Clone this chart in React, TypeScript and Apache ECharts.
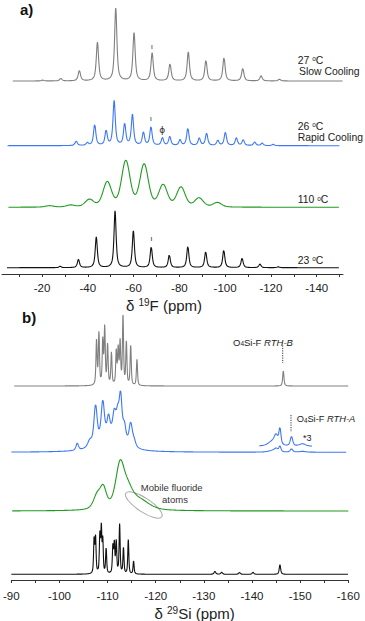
import React, { useEffect, useRef } from "react";
import * as echarts from "echarts";

// Each peak: [chemical shift (ppm), intensity, half width at half height (ppm)]
type Peak = [number, number, number];

// ---------- Panel a) 19F MAS NMR ----------
const F19_TICK_VALUES = [-10, -20, -30, -40, -50, -60, -70, -80, -90, -100, -110, -120, -130, -140, -150];
const F19_LABEL_VALUES = [-20, -40, -60, -80, -100, -120, -140];

const F19_SLOW_27C: Peak[] = [
  [-20.3, 0.8, 0.6], [-28.2, 2.4, 0.6], [-36.3, 10.3, 0.6], [-44.2, 38.5, 0.6],
  [-52.2, 72.5, 0.6], [-60.2, 48, 0.6], [-68.1, 27.8, 0.6], [-75.9, 17, 0.6],
  [-83.9, 28.8, 0.6], [-91.6, 20.5, 0.6], [-99.5, 23.3, 0.6], [-107.7, 12.5, 0.6],
  [-115.7, 5.2, 0.6], [-123.7, 1.7, 0.6],
];
const F19_RAPID_26C: Peak[] = [
  [-34.9, 4.4, 0.6], [-39.8, 2.7, 0.6], [-43.0, 21, 0.6], [-48.0, 14.6, 0.6],
  [-51.5, 44.5, 0.6], [-56.1, 21.5, 0.6], [-59.5, 30.5, 0.6], [-64.3, 13, 0.6],
  [-67.6, 18.6, 0.6], [-72.6, 7.6, 0.6], [-75.8, 8.8, 0.6], [-80.3, 5.6, 0.6],
  [-83.7, 17.2, 0.6], [-88.7, 7.3, 0.6], [-91.9, 12.3, 0.6], [-96.8, 5.1, 0.6],
  [-100.1, 13.3, 0.6], [-104.9, 7.6, 0.6], [-107.9, 5.7, 0.6], [-112.9, 3.5, 0.6],
  [-116.2, 2.5, 0.6], [-121.0, 1.3, 0.6],
];
const F19_HOT_110C: Peak[] = [
  [-23.2, 1.4, 2.2], [-32.5, 1.9, 2.2], [-40.7, 7.3, 2.2], [-48.5, 24.5, 2.2],
  [-56.6, 45.5, 2.2], [-64.6, 42, 2.2], [-72.9, 21.5, 2.2], [-80.7, 19.5, 2.2],
  [-88.6, 8.8, 2.2], [-96.6, 4.5, 2.2],
];
const F19_ROOM_23C: Peak[] = [
  [-27.9, 1.4, 0.55], [-35.9, 8.2, 0.55], [-43.7, 30.6, 0.55], [-51.9, 56.5, 0.55],
  [-59.9, 36.6, 0.55], [-67.7, 20.8, 0.55], [-75.6, 12.6, 0.55], [-83.7, 21.4, 0.55],
  [-91.5, 16, 0.55], [-99.4, 17.6, 0.55], [-107.4, 9.4, 0.55], [-115.2, 3.6, 0.55],
  [-123.2, 1.0, 0.55],
];
// spectral window of each trace [from, to] (ppm)
const F19_SLOW_RANGE = [-7.2, -151.5];
const F19_RAPID_RANGE = [-4.9, -150.2];
const F19_HOT_RANGE = [-5.3, -149.8];
const F19_ROOM_RANGE = [-4.7, -149.8];

// ---------- Panel b) 29Si MAS NMR ----------
const SI29_SLOW_27C: Peak[] = [
  [-107.7, 44, 0.14], [-108.2, 52, 0.14], [-109.0, 44, 0.14], [-109.4, 57, 0.14],
  [-110.0, 40, 0.14], [-110.8, 32, 0.14], [-111.8, 33, 0.14], [-112.2, 35, 0.14],
  [-112.6, 42, 0.14], [-113.2, 68, 0.14], [-113.9, 43, 0.14], [-114.8, 40, 0.14],
  [-116.1, 26, 0.14], [-146.5, 15, 0.16],
];
const SI29_RAPID_26C: Peak[] = [
  [-103.7, 7, 0.3], [-106.3, 6, 0.5], [-107.5, 38, 0.4], [-109.0, 37, 0.4],
  [-110.2, 18, 0.35], [-111.4, 22, 0.4], [-112.1, 20, 0.35], [-112.7, 42, 0.35],
  [-113.5, 15, 0.35], [-114.8, 22, 0.4], [-115.5, 6, 0.4], [-110.8, 16, 3.0],
  [-144.2, 1.5, 1.0], [-145.0, 3, 0.45], [-145.8, 5.5, 0.25], [-148.2, 3.2, 0.3],
  [-150.5, 0.8, 0.8],
];
const SI29_HOT_110C: Peak[] = [
  [-107.8, 13, 0.9], [-109.1, 20, 0.8], [-112.6, 44, 1.1], [-114.3, 14, 1.2],
  [-116.5, 10, 2.5],
];
const SI29_ROOM_23C: Peak[] = [
  [-107.2, 34, 0.13], [-107.5, 35, 0.13], [-108.4, 38, 0.13], [-108.7, 44, 0.13],
  [-109.0, 32, 0.12], [-109.7, 25, 0.13], [-111.1, 27, 0.13], [-111.4, 29, 0.13],
  [-111.8, 32, 0.13], [-112.5, 49, 0.13], [-113.3, 26, 0.13], [-114.3, 34, 0.13],
  [-115.4, 13, 0.13], [-132.3, 3, 0.2], [-133.7, 2, 0.2], [-137.4, 1.8, 0.2],
  [-140.2, 2, 0.2], [-145.8, 9.5, 0.18],
];
const SI29_SLOW_RANGE = [-90.6, -160];
const SI29_RAPID_RANGE = [-90, -159.7];
const SI29_HOT_RANGE = [-90.2, -160];
const SI29_ROOM_RANGE = [-90, -160];
const SI29_EXPANSION_RANGE = [-141.5, -152.5];
const SI29_EXPANSION_FACTOR = 3;

const FONT = "'Liberation Sans', Arial, Helvetica, sans-serif";

function trace(peaks: Peak[], range: number[], step: number, eta: number, offset: number, scale = 1) {
  const [from, to] = range;
  const n = Math.round((from - to) / step);
  const pts: number[][] = [];
  for (let i = 0; i <= n; i++) {
    const x = from - i * step;
    let y = 0;
    for (const [c, h, g] of peaks) {
      const d = (x - c) / g;
      const d2 = d * d;
      y += h * (eta / (1 + d2) + (1 - eta) * Math.exp(-Math.LN2 * d2));
    }
    pts.push([x, offset + scale * y]);
  }
  return pts;
}

const line = (data: number[][], color: string, axis: number, width = 1.1) => ({
  type: "line",
  xAxisIndex: axis,
  yAxisIndex: axis,
  data,
  showSymbol: false,
  symbol: "none",
  silent: true,
  lineStyle: { color, width },
});

const txt = (text: string, x: number, y: number, extra: any = {}) => ({
  type: "text",
  x,
  y,
  silent: true,
  style: {
    text,
    fill: "#222",
    fontFamily: FONT,
    fontSize: 10.4,
    align: "left",
    verticalAlign: "middle",
    ...extra,
  },
});

const tempLabel = (t: string, x: number, y: number) =>
  txt(`${t} {s|o}C`, x, y, { rich: { s: { fontSize: 6.5, verticalAlign: "top", fontFamily: FONT, fill: "#222" } } });

export default function App() {
  const ref = useRef<HTMLDivElement>(null);

  useEffect(() => {
    if (!ref.current) return;
    const chart = echarts.init(ref.current, undefined, { renderer: "svg" });

    const GRAY = "#808080";
    const BLUE = "#3d78f2";
    const GREEN = "#219a21";
    const BLACK = "#111111";

    const series = [
      line(trace(F19_SLOW_27C, F19_SLOW_RANGE, 0.1, 0.75, 193), GRAY, 0),
      line(trace(F19_RAPID_26C, F19_RAPID_RANGE, 0.1, 0.75, 128.3), BLUE, 0),
      line(trace(F19_HOT_110C, F19_HOT_RANGE, 0.1, 0.3, 66.7), GREEN, 0),
      line(trace(F19_ROOM_23C, F19_ROOM_RANGE, 0.1, 0.75, 6.3), BLACK, 0),
      line(trace(SI29_SLOW_27C, SI29_SLOW_RANGE, 0.03, 0.6, 194), GRAY, 1),
      line(trace(SI29_RAPID_26C, SI29_RAPID_RANGE, 0.03, 0.6, 127.7), BLUE, 1),
      line(trace(SI29_RAPID_26C, SI29_EXPANSION_RANGE, 0.03, 0.6, 133.4, SI29_EXPANSION_FACTOR), BLUE, 1),
      line(trace(SI29_HOT_110C, SI29_HOT_RANGE, 0.03, 0.5, 69), GREEN, 1),
      line(trace(SI29_ROOM_23C, SI29_ROOM_RANGE, 0.03, 0.6, 5.7), BLACK, 1),
    ];

    const axisCommon = {
      type: "value",
      inverse: true,
      axisLine: { show: true, onZero: false, lineStyle: { color: "#333", width: 1 } },
      splitLine: { show: false },
    };

    const graphic: any[] = [
      txt("a)", 20, 9, { fontSize: 15, fontWeight: "bold", fill: "#111" }),
      tempLabel("27", 297.7, 60),
      txt("Slow Cooling", 299, 71),
      tempLabel("26", 297.7, 126),
      txt("Rapid Cooling", 297.7, 137.5),
      tempLabel("110", 297.7, 199.5),
      tempLabel("23", 297.7, 260),
      txt("ι", 152, 46.5, { fontSize: 8, align: "center", fill: "#333" }),
      txt("ι", 151, 118.5, { fontSize: 8, align: "center", fill: "#333" }),
      txt("ϕ", 162.3, 130, { fontSize: 9, align: "center", fill: "#333", fontFamily: "'DejaVu Sans', sans-serif" }),
      txt("ι", 151.3, 238.5, { fontSize: 8, align: "center", fill: "#333" }),
      txt("δ {s|19}F (ppm)", 164, 305, {
        fontSize: 15,
        align: "center",
        rich: { s: { fontSize: 10, verticalAlign: "top", fontFamily: FONT, fill: "#222" } },
      }),
      txt("b)", 22, 317, { fontSize: 15, fontWeight: "bold", fill: "#111" }),
      txt("{n|O}{d|4}{n|Si-F }{i|RTH-B}", 233, 342.3, {
        fontSize: 9.5,
        rich: {
          n: { fontSize: 9.5, fontFamily: FONT, fill: "#222" },
          d: { fontSize: 6.5, verticalAlign: "bottom", fontFamily: FONT, fill: "#222" },
          i: { fontSize: 9.5, fontStyle: "italic", fontFamily: FONT, fill: "#222" },
        },
      }),
      {
        type: "line",
        silent: true,
        shape: { x1: 282.7, y1: 345.5, x2: 282.7, y2: 363 },
        style: { stroke: "#333", lineWidth: 1, lineDash: [1.2, 1.2] },
      },
      txt("{n|O}{d|4}{n|Si-F }{i|RTH-A}", 296.7, 419.3, {
        fontSize: 9.3,
        rich: {
          n: { fontSize: 9.3, fontFamily: FONT, fill: "#222" },
          d: { fontSize: 6.3, verticalAlign: "bottom", fontFamily: FONT, fill: "#222" },
          i: { fontSize: 9.3, fontStyle: "italic", fontFamily: FONT, fill: "#222" },
        },
      }),
      {
        type: "line",
        silent: true,
        shape: { x1: 291, y1: 415, x2: 291, y2: 432 },
        style: { stroke: "#333", lineWidth: 1, lineDash: [1.2, 1.2] },
      },
      txt("*3", 303, 437.5, { fontSize: 9 }),
      {
        type: "ellipse",
        silent: true,
        x: 143.8,
        y: 505,
        rotation: -0.58,
        shape: { cx: 0, cy: 0, rx: 21.5, ry: 7 },
        style: { fill: "none", stroke: "#aaaaaa", lineWidth: 1 },
      },
      txt("Mobile fluoride", 171.7, 487.7, { fontSize: 9.5, align: "center", fill: "#333" }),
      txt("atoms", 175, 499, { fontSize: 9.5, align: "center", fill: "#333" }),
      txt("δ {s|29}Si (ppm)", 194.7, 613, {
        fontSize: 15,
        align: "center",
        rich: { s: { fontSize: 10, verticalAlign: "top", fontFamily: FONT, fill: "#222" } },
      }),
    ];

    chart.setOption({
      animation: false,
      backgroundColor: "#ffffff",
      grid: [
        { left: 2, top: 0, width: 341, height: 274 },
        { left: 7.3, top: 300, width: 341, height: 280 },
      ],
      xAxis: [
        {
          ...axisCommon,
          gridIndex: 0,
          min: -151.5,
          max: -2.5,
          axisTick: { show: true, customValues: F19_TICK_VALUES, length: 3, lineStyle: { color: "#333" } },
          axisLabel: { customValues: F19_LABEL_VALUES, fontSize: 11.5, color: "#222", margin: 8, fontFamily: FONT },
        },
        {
          ...axisCommon,
          gridIndex: 1,
          min: -160,
          max: -90,
          interval: 5,
          axisTick: { show: true, length: 3, lineStyle: { color: "#333" } },
          axisLabel: {
            fontSize: 11.5,
            color: "#222",
            margin: 10,
            fontFamily: FONT,
            formatter: (v: number) => (Math.round(v) % 10 === 0 ? String(v) : ""),
          },
        },
      ],
      yAxis: [
        { gridIndex: 0, type: "value", min: 0, max: 274, show: false },
        { gridIndex: 1, type: "value", min: 0, max: 280, show: false },
      ],
      series,
      graphic,
    });

    return () => chart.dispose();
  }, []);

  return (
    <div
      ref={ref}
      style={{ position: "fixed", left: 0, top: 0, width: 365, height: 621, background: "#fff" }}
    />
  );
}
